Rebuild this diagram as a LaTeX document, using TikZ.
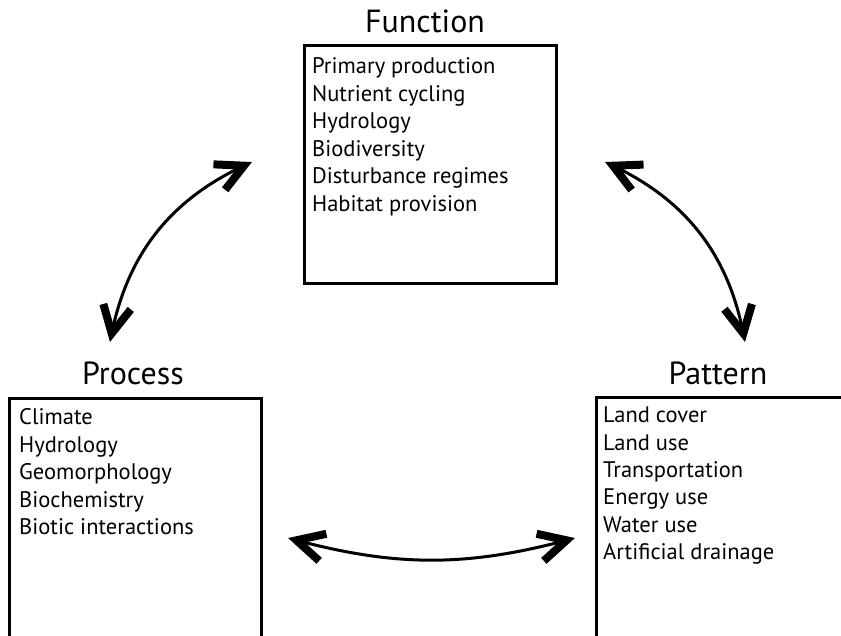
\documentclass[tikz,border=0pt]{standalone}
\usepackage{fontspec}
\setmainfont{PT Sans}
\usetikzlibrary{decorations.markings}
\begin{document}
\begin{tikzpicture}[x=1pt,y=1pt,
  box/.style={draw, line width=2.6pt, inner sep=0pt, anchor=south west},
  title/.style={anchor=base, inner sep=0pt, font=\fontsize{32}{36}\selectfont},
  items/.style={anchor=base west, inner sep=0pt, align=left,
    font=\fontsize{22.5}{27.5}\selectfont},
  barb/.style={line width=8pt, line cap=butt, line join=miter},
  link/.style={line width=3pt, shorten <=7pt, shorten >=7pt,
    postaction={decorate, decoration={markings,
      mark=at position 0 with {\draw[barb, shorten <=0pt, shorten >=0pt]
        (36,14) -- (8.8,0) -- (36,-14);},
      mark=at position 0.9999 with {\draw[barb, shorten <=0pt, shorten >=0pt]
        (-36,14) -- (-8.8,0) -- (-36,-14);}}}}]
\clip (0,0) rectangle (841,635);
\fill[white] (0,0) rectangle (841,635);

% Function
\node[box, minimum width=252pt, minimum height=238pt] (func) at (303,350) {};
\node[title] (functitle) at (425,602) {Function};
\node[items] (funclist) at (312,423.5) {Primary production\\Nutrient cycling\\Hydrology\\Biodiversity\\Disturbance regimes\\Habitat provision};

% Process
\node[box, minimum width=252pt, minimum height=250pt] (proc) at (8,-15) {};
\node[title] (proctitle) at (133,250) {Process};
\node[items] (proclist) at (19,100) {Climate\\Hydrology\\Geomorphology\\Biochemistry\\Biotic interactions};

% Pattern
\node[box, minimum width=260pt, minimum height=251pt] (patt) at (595,-15) {};
\node[title] (patttitle) at (718,250) {Pattern};
\node[items] (pattlist) at (603,75) {Land cover\\Land use\\Transportation\\Energy use\\Water use\\Artificial drainage};

% arrow ends
\coordinate (pf1) at (110,293);
\coordinate (pf2) at (252,473);
\coordinate (fp1) at (605,473);
\coordinate (fp2) at (745,293);
\coordinate (pp1) at (288,97);
\coordinate (pp2) at (575,97);

% two-way links
\draw[link] (pf1) to[bend left=27] (pf2);
\draw[link] (fp1) to[bend left=27] (fp2);
\draw[link] (pp1) to[bend right=15] (pp2);
\end{tikzpicture}
\end{document}
